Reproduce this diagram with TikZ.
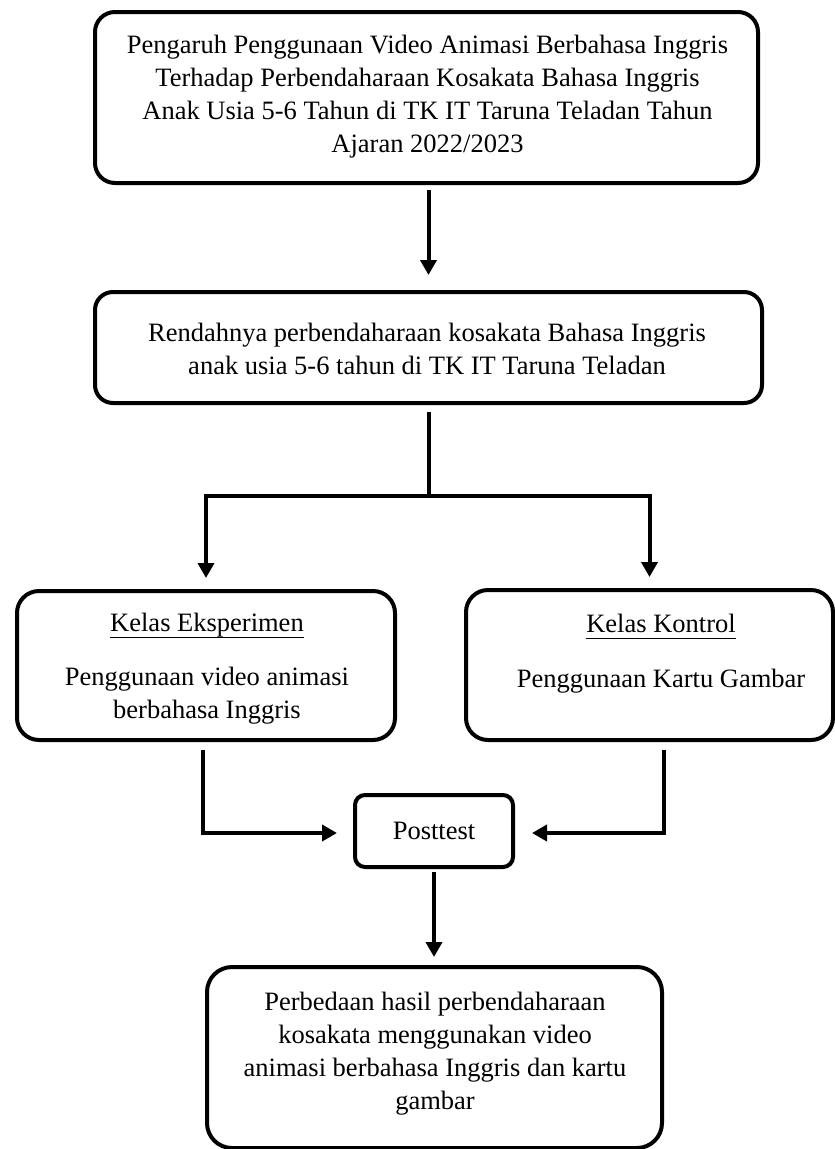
\documentclass[tikz,border=0pt]{standalone}
\usepackage{fontspec}
\setmainfont{Liberation Serif}
\usetikzlibrary{arrows.meta}
\newcommand{\ulword}[1]{\setbox0\hbox{#1}\rlap{\rule[-7pt]{\wd0}{1.4pt}}\box0}
\begin{document}
\begin{tikzpicture}[x=1pt,y=-1pt,
  every node/.style={font=\fontsize{26.5}{33}\selectfont},
  boxst/.style={draw, line width=4pt, inner sep=0pt, align=center},
  txt/.style={inner sep=0pt, align=center},
  line/.style={line width=4pt},
  arr/.style={line width=4pt, -{Triangle[length=15pt,width=16pt]}}]
\fill[white] (0,0) rectangle (835,1149);
\useasboundingbox (0,0) rectangle (835,1149);

% boxes
\node[boxst, rounded corners=20pt, minimum width=663pt, minimum height=171pt] (b1) at (426.5,97.5) {};
\node[boxst, rounded corners=18pt, minimum width=667pt, minimum height=111pt] (b2) at (428.5,347.5) {};
\node[boxst, rounded corners=22pt, minimum width=378pt, minimum height=149pt] (le) at (206,665.5) {};
\node[boxst, rounded corners=22pt, minimum width=367pt, minimum height=150pt] (ri) at (649.5,665) {};
\node[boxst, rounded corners=10pt, minimum width=158pt, minimum height=72pt] (pt) at (434,831) {Posttest};
\node[boxst, rounded corners=25pt, minimum width=455pt, minimum height=181pt] (b5) at (434.5,1057.5) {};

% texts
\node[txt] (t1) at (427.5,96.4) {Pengaruh Penggunaan Video Animasi Berbahasa Inggris\\Terhadap Perbendaharaan Kosakata Bahasa Inggris\\Anak Usia 5-6 Tahun di TK IT Taruna Teladan Tahun\\Ajaran 2022/2023};
\node[txt] (t2) at (427,349.3) {Rendahnya perbendaharaan kosakata Bahasa Inggris\\anak usia 5-6 tahun di TK IT Taruna Teladan};
\node[txt] (t3) at (207,668.3) {\ulword{Kelas Eksperimen}\\[21pt]Penggunaan video animasi\\berbahasa Inggris};
\node[txt] (t4) at (661,653.3) {\ulword{Kelas Kontrol}\\[22pt]Penggunaan Kartu Gambar};
\node[txt] (t5) at (435,1053.3) {Perbedaan hasil perbendaharaan\\kosakata menggunakan video\\animasi berbahasa Inggris dan kartu\\gambar};

% connectors
\draw[arr, shorten <=5pt, shorten >=15pt] (b1.south -| b2.north) -- (b2.north);
\coordinate (j) at (428.5,496);
\draw[line, shorten <=7pt] (b2.south) -- (j);
\draw[arr, shorten >=11pt] (j) -| (le.north);
\draw[arr, shorten >=11pt] (j) -| (ri.north);
\draw[arr, shorten <=8pt, shorten >=16pt] ([xshift=-3pt]le.south) |- ([yshift=-2pt]pt.west);
\draw[arr, shorten <=8pt, shorten >=17pt] ([xshift=14.5pt]ri.south) |- ([yshift=-2pt]pt.east);
\draw[arr, shorten <=3pt, shorten >=8pt] (pt.south) -- (pt.south |- b5.north);
\end{tikzpicture}
\end{document}
